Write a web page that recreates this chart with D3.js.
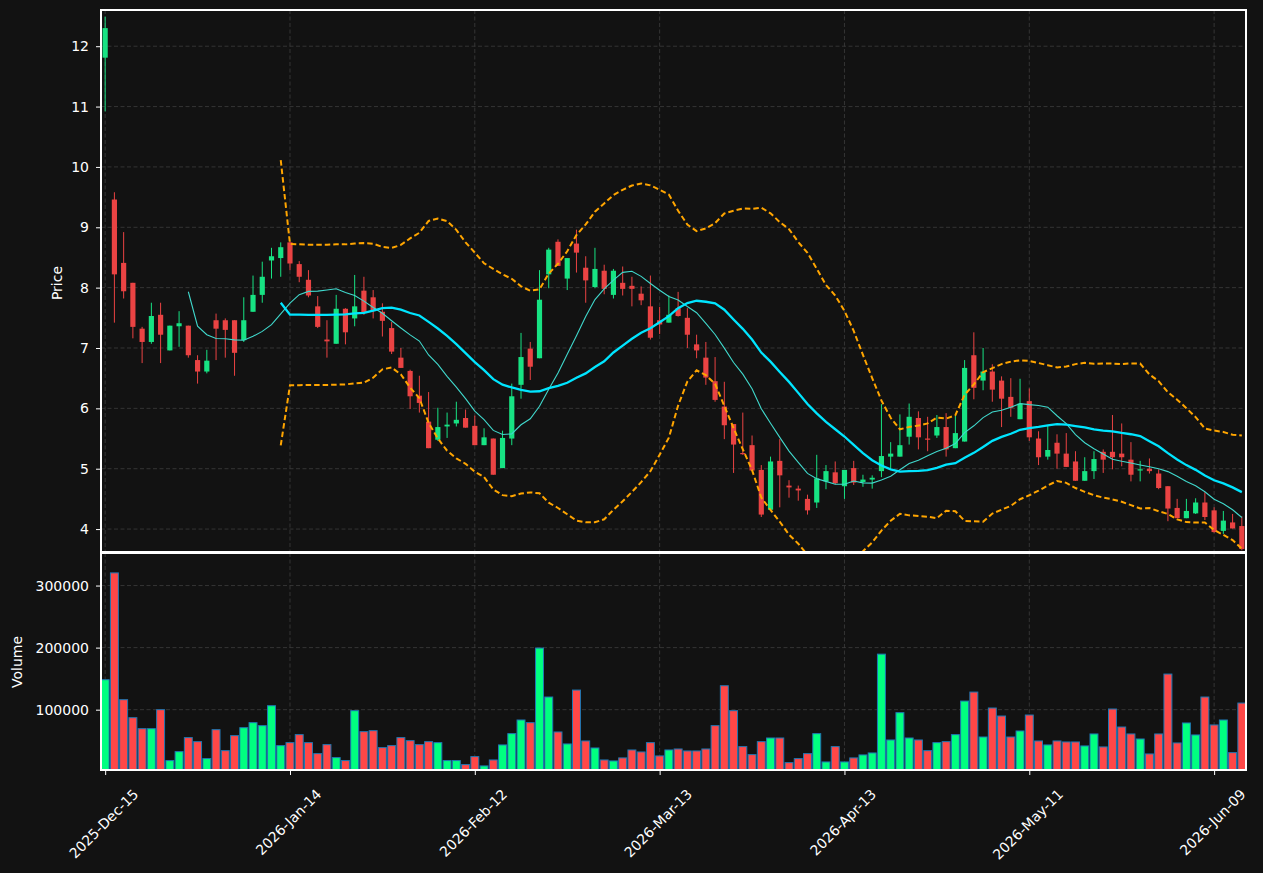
<!DOCTYPE html>
<html>
<head>
<meta charset="utf-8">
<script src="https://cdn.jsdelivr.net/npm/d3@7"></script>
<style>
  html, body { margin: 0; padding: 0; background: #121212; }
  #chart { width: 1263px; height: 873px; }
  text { font-family: "DejaVu Sans", sans-serif; }
</style>
</head>
<body>
<div id="chart"></div>
<script>
// Candlestick chart with MA10 / MA20, Bollinger bands and a volume panel

const opens = [
  11.81, 9.46, 8.41, 8.08, 7.32, 7.10, 7.55, 6.96, 7.36, 7.37,
  6.80, 6.61, 7.46, 7.46, 7.46, 7.13, 7.60, 7.88, 8.45, 8.49,
  8.75, 8.39, 8.13, 7.69, 7.14, 7.07, 7.65, 7.49, 7.95, 7.84,
  7.60, 7.33, 6.84, 6.62, 6.21, 5.78, 5.48, 5.70, 5.75, 5.84,
  5.71, 5.39, 5.50, 5.01, 5.50, 6.39, 6.99, 6.83, 8.22, 8.76,
  8.15, 8.73, 8.33, 8.01, 8.28, 7.88, 8.08, 8.03, 7.90, 7.69,
  7.46, 7.42, 7.66, 7.50, 7.06, 6.84, 6.45, 6.03, 5.74, 5.26,
  5.39, 4.98, 4.32, 5.13, 4.72, 4.67, 4.50, 4.44, 4.79, 4.94,
  4.71, 5.01, 4.78, 4.82, 4.96, 5.20, 5.20, 5.53, 5.84, 5.50,
  5.55, 5.69, 5.34, 5.45, 6.88, 6.46, 6.61, 6.46, 6.19, 5.82,
  6.12, 5.50, 5.20, 5.43, 5.25, 5.12, 4.80, 4.96, 5.28, 5.28,
  5.25, 5.15, 4.97, 5.00, 4.92, 4.71, 4.35, 4.18, 4.26, 4.44,
  4.31, 3.97, 4.11, 4.05
];

const highs = [
  12.49, 9.58, 8.92, 8.08, 7.35, 7.75, 7.75, 7.37, 7.61, 7.37,
  6.88, 6.97, 7.57, 7.49, 7.46, 7.84, 8.20, 8.43, 8.66, 8.75,
  8.77, 8.44, 8.29, 7.86, 7.46, 7.88, 7.66, 8.21, 8.18, 7.96,
  7.74, 7.43, 7.00, 6.64, 6.54, 6.27, 6.01, 5.93, 6.11, 5.98,
  5.88, 5.67, 5.50, 5.63, 6.41, 7.25, 7.10, 8.29, 8.66, 8.80,
  8.49, 8.96, 8.52, 8.66, 8.38, 8.31, 8.35, 8.18, 8.02, 8.20,
  7.68, 7.87, 7.93, 7.66, 7.22, 7.10, 6.85, 6.44, 5.74, 5.93,
  5.55, 5.06, 5.20, 5.49, 4.81, 4.72, 4.57, 5.23, 5.06, 5.12,
  4.98, 5.13, 4.90, 4.89, 6.07, 5.44, 5.90, 6.08, 5.95, 5.86,
  5.89, 5.92, 5.89, 6.80, 7.26, 7.00, 6.73, 6.53, 6.50, 6.49,
  6.33, 5.62, 5.72, 5.57, 5.59, 5.29, 5.19, 5.29, 5.32, 5.89,
  5.75, 5.44, 5.13, 5.17, 4.99, 4.71, 4.50, 4.50, 4.51, 4.61,
  4.36, 4.30, 4.25, 4.21
];

const lows = [
  10.92, 7.42, 7.82, 7.16, 6.75, 7.07, 6.75, 6.96, 7.02, 6.84,
  6.41, 6.58, 6.80, 6.84, 6.54, 7.10, 7.60, 7.75, 8.15, 8.18,
  8.29, 8.09, 7.84, 7.33, 6.84, 7.07, 7.06, 7.36, 7.55, 7.49,
  7.19, 6.90, 6.67, 5.99, 5.93, 5.34, 5.46, 5.51, 5.70, 5.68,
  5.39, 5.39, 4.90, 5.01, 5.39, 6.16, 6.47, 6.83, 7.99, 8.36,
  7.96, 8.25, 7.75, 7.99, 7.89, 7.82, 7.87, 7.69, 7.71, 7.14,
  7.23, 7.42, 7.52, 7.00, 6.83, 6.39, 6.11, 5.49, 4.93, 5.23,
  4.97, 4.20, 4.31, 4.36, 4.52, 4.47, 4.24, 4.35, 4.66, 4.74,
  4.50, 4.73, 4.70, 4.67, 4.86, 5.01, 5.20, 5.40, 5.32, 5.29,
  5.51, 5.20, 5.34, 5.45, 6.15, 6.30, 6.11, 5.69, 5.86, 5.82,
  5.46, 5.06, 5.15, 5.00, 5.03, 4.80, 4.80, 4.83, 4.93, 4.99,
  5.04, 4.79, 4.79, 4.92, 4.66, 4.13, 4.18, 4.18, 4.25, 4.15,
  3.94, 3.92, 4.01, 3.65
];

const closes = [
  12.30, 8.22, 7.94, 7.35, 7.10, 7.53, 7.22, 7.37, 7.41, 6.88,
  6.61, 6.79, 7.32, 7.30, 6.92, 7.46, 7.88, 8.18, 8.52, 8.67,
  8.40, 8.18, 7.87, 7.35, 7.11, 7.65, 7.26, 7.69, 7.59, 7.61,
  7.45, 6.94, 6.67, 6.20, 6.09, 5.34, 5.69, 5.73, 5.81, 5.68,
  5.39, 5.52, 4.90, 5.51, 6.20, 6.85, 6.69, 7.80, 8.63, 8.36,
  8.49, 8.58, 8.12, 8.31, 7.98, 8.28, 7.98, 7.98, 7.79, 7.17,
  7.39, 7.55, 7.53, 7.22, 6.96, 6.51, 6.14, 5.72, 5.40, 5.24,
  4.97, 4.24, 5.12, 4.89, 4.69, 4.64, 4.31, 4.84, 4.96, 4.76,
  4.98, 4.77, 4.82, 4.85, 5.21, 5.25, 5.39, 5.86, 5.52, 5.48,
  5.69, 5.32, 5.59, 6.67, 6.34, 6.61, 6.31, 6.16, 6.01, 6.08,
  5.52, 5.19, 5.31, 5.25, 5.03, 4.80, 4.96, 5.16, 5.15, 5.19,
  5.19, 4.90, 4.99, 4.96, 4.68, 4.34, 4.18, 4.30, 4.44, 4.20,
  3.95, 4.14, 4.01, 3.67
];

const volumes = [
  148300, 320400, 116100, 87100, 69400, 69400, 100000, 18000, 32400, 55000,
  48500, 21200, 67800, 34000, 58200, 71000, 79100, 74300, 106400, 42100,
  46900, 59800, 46900, 29200, 43700, 22800, 18000, 98400, 64600, 66200,
  38900, 42100, 55000, 50100, 43700, 48500, 46900, 18000, 18000, 11500,
  24400, 9400, 19000, 43200, 61400, 83400, 79100, 199300, 120400, 64100,
  44800, 131600, 49600, 38300, 19000, 17400, 22300, 35100, 31900, 46900,
  25500, 35100, 36700, 33500, 33500, 36700, 74300, 138600, 98400, 40500,
  27600, 48500, 54400, 54400, 14700, 21200, 29200, 61400, 15800, 40500,
  15800, 22300, 27100, 30300, 189500, 51200, 95200, 54400, 51200, 34000,
  46900, 48500, 59800, 113900, 128400, 56000, 102700, 89800, 56000, 65700,
  91400, 49600, 43200, 49600, 48000, 48000, 41600, 60900, 40000, 101100,
  72100, 60900, 52800, 28700, 60900, 157400, 46400, 78600, 59300, 120400,
  75400, 83400, 30800, 110700
];

const tickIndex = [0, 20, 40, 60, 80, 100, 120];
const tickLabels = ["2025-Dec-15", "2026-Jan-14", "2026-Feb-12", "2026-Mar-13",
                    "2026-Apr-13", "2026-May-11", "2026-Jun-09"];
const priceTicks = [4, 5, 6, 7, 8, 9, 10, 11, 12];
const volumeTicks = [100000, 200000, 300000];

// rolling helpers (indicator series are derived from the closes)
function rollingMean(arr, w) {
  return arr.map((_, i) => i < w - 1 ? null : d3.mean(arr.slice(i - w + 1, i + 1)));
}
function rollingStd(arr, w) {
  return arr.map((_, i) => {
    if (i < w - 1) return null;
    const s = arr.slice(i - w + 1, i + 1);
    const m = d3.mean(s);
    return Math.sqrt(d3.sum(s, v => (v - m) * (v - m)) / w);
  });
}

function renderChart(containerId) {
  const width = 1263, height = 873;
  const left = 101, right = 1246;
  const pTop = 10, pBottom = 552, vTop = 553, vBottom = 770;
  const n = closes.length;

  const svg = d3.select(`#${containerId}`).append("svg")
    .attr("width", width).attr("height", height)
    .style("background", "#121212");

  const x = d3.scaleLinear().domain([-0.45, n - 1 + 0.45]).range([left, right]);
  const step = x(1) - x(0);
  const y = d3.scaleLinear().domain([3.62, 12.6]).range([pBottom, pTop]);
  const yv = d3.scaleLinear()
    .domain([0.3 * d3.min(volumes), 1.1 * d3.max(volumes)])
    .range([vBottom, vTop]);

  const defs = svg.append("defs");
  defs.append("clipPath").attr("id", "clipPrice").append("rect")
    .attr("x", left).attr("y", pTop).attr("width", right - left).attr("height", pBottom - pTop);
  defs.append("clipPath").attr("id", "clipVol").append("rect")
    .attr("x", left).attr("y", vTop).attr("width", right - left).attr("height", vBottom - vTop);

  const gridColor = "#3d3d3d";
  const grid = svg.append("g")
    .attr("stroke", gridColor).attr("stroke-width", 0.8).attr("stroke-dasharray", "4,2.5");
  priceTicks.forEach(t => grid.append("line")
    .attr("x1", left).attr("x2", right).attr("y1", y(t)).attr("y2", y(t)));
  volumeTicks.forEach(t => grid.append("line")
    .attr("x1", left).attr("x2", right).attr("y1", yv(t)).attr("y2", yv(t)));
  tickIndex.forEach(t => {
    grid.append("line").attr("x1", x(t)).attr("x2", x(t)).attr("y1", pTop).attr("y2", pBottom);
    grid.append("line").attr("x1", x(t)).attr("x2", x(t)).attr("y1", vTop).attr("y2", vBottom);
  });

  const up = i => closes[i] >= opens[i];
  const candleUp = "#17e383", candleDown = "#ea4343";
  const volUp = "#00ff80", volDown = "#ff4747";

  // Candles
  const cg = svg.append("g").attr("clip-path", "url(#clipPrice)");
  const idx = d3.range(n);
  cg.selectAll("line.wick").data(idx).join("line")
    .attr("class", "wick")
    .attr("x1", i => x(i)).attr("x2", i => x(i))
    .attr("y1", i => y(highs[i])).attr("y2", i => y(lows[i]))
    .attr("stroke", i => up(i) ? candleUp : candleDown)
    .attr("stroke-width", 1);
  const bw = step * 0.56;
  cg.selectAll("rect.body").data(idx).join("rect")
    .attr("class", "body")
    .attr("x", i => x(i) - bw / 2)
    .attr("width", bw)
    .attr("y", i => y(Math.max(opens[i], closes[i])))
    .attr("height", i => Math.max(1, Math.abs(y(opens[i]) - y(closes[i]))))
    .attr("fill", i => up(i) ? candleUp : candleDown);

  // Indicators
  const ma10 = rollingMean(closes, 10);
  const ma20 = rollingMean(closes, 20);
  const sd20 = rollingStd(closes, 20);
  const upper = ma20.map((m, i) => m === null ? null : m + 2 * sd20[i]);
  const lower = ma20.map((m, i) => m === null ? null : m - 2 * sd20[i]);

  const line = d3.line()
    .defined(d => d[1] !== null)
    .x(d => x(d[0])).y(d => y(d[1]));
  const asPts = arr => arr.map((v, i) => [i, v]);

  const lg = svg.append("g").attr("clip-path", "url(#clipPrice)").attr("fill", "none");
  lg.append("path").attr("d", line(asPts(upper)))
    .attr("stroke", "#ffa500").attr("stroke-width", 2).attr("stroke-dasharray", "5.5,3");
  lg.append("path").attr("d", line(asPts(lower)))
    .attr("stroke", "#ffa500").attr("stroke-width", 2).attr("stroke-dasharray", "5.5,3");
  lg.append("path").attr("d", line(asPts(ma10)))
    .attr("stroke", "#40d8cc").attr("stroke-width", 1.1);
  lg.append("path").attr("d", line(asPts(ma20)))
    .attr("stroke", "#00e5ff").attr("stroke-width", 2.3);

  // Volume bars
  const vw = step * 0.86;
  svg.append("g").attr("clip-path", "url(#clipVol)")
    .selectAll("rect").data(idx).join("rect")
    .attr("x", i => x(i) - vw / 2)
    .attr("width", vw)
    .attr("y", i => yv(volumes[i]))
    .attr("height", i => vBottom - yv(volumes[i]) + 2)
    .attr("fill", i => up(i) ? volUp : volDown)
    .attr("stroke", "#1f77b4").attr("stroke-width", 1);

  // Axes
  const styleAxis = g => {
    g.attr("font-size", null).attr("font-family", null);
    g.select(".domain").remove();
    g.selectAll(".tick line").attr("stroke", "white").attr("stroke-width", 1);
    g.selectAll(".tick text").attr("fill", "white")
      .style("font-size", "14px").style("font-family", "DejaVu Sans, sans-serif");
  };

  svg.append("g").attr("transform", `translate(${left},0)`)
    .call(d3.axisLeft(y).tickValues(priceTicks).tickSize(5).tickPadding(7).tickFormat(d3.format("d")))
    .call(styleAxis);
  svg.append("g").attr("transform", `translate(${left},0)`)
    .call(d3.axisLeft(yv).tickValues(volumeTicks).tickSize(5).tickPadding(7).tickFormat(d3.format("d")))
    .call(styleAxis);

  const xa = svg.append("g").attr("transform", `translate(0,${vBottom})`)
    .call(d3.axisBottom(x).tickValues(tickIndex).tickSize(5)
      .tickFormat((d, i) => tickLabels[i]))
    .call(styleAxis);
  // rotate labels 45deg, centred on the tick like matplotlib
  xa.selectAll(".tick text").each(function () {
    const t = d3.select(this);
    const len = this.getComputedTextLength();
    const cy = 16 + (len + 16) / (2 * Math.SQRT2);
    t.attr("y", null).attr("dy", null)
      .attr("text-anchor", "middle")
      .attr("dominant-baseline", "central")
      .attr("transform", `translate(-2,${cy}) rotate(-45)`);
  });

  // Frames
  svg.append("rect").attr("x", left).attr("y", pTop)
    .attr("width", right - left).attr("height", pBottom - pTop)
    .attr("fill", "none").attr("stroke", "white").attr("stroke-width", 1.3)
    .attr("shape-rendering", "crispEdges");
  svg.append("rect").attr("x", left).attr("y", vTop)
    .attr("width", right - left).attr("height", vBottom - vTop)
    .attr("fill", "none").attr("stroke", "white").attr("stroke-width", 1.3)
    .attr("shape-rendering", "crispEdges");

  // Axis labels
  svg.append("text")
    .attr("transform", "translate(57,283) rotate(-90)")
    .attr("text-anchor", "middle").attr("dominant-baseline", "central")
    .attr("fill", "white").style("font-size", "14px")
    .text("Price");
  svg.append("text")
    .attr("transform", "translate(17,662) rotate(-90)")
    .attr("text-anchor", "middle").attr("dominant-baseline", "central")
    .attr("fill", "white").style("font-size", "14px")
    .text("Volume");
}

document.addEventListener("DOMContentLoaded", () => {
  renderChart("chart");
});
</script>
</body>
</html>
